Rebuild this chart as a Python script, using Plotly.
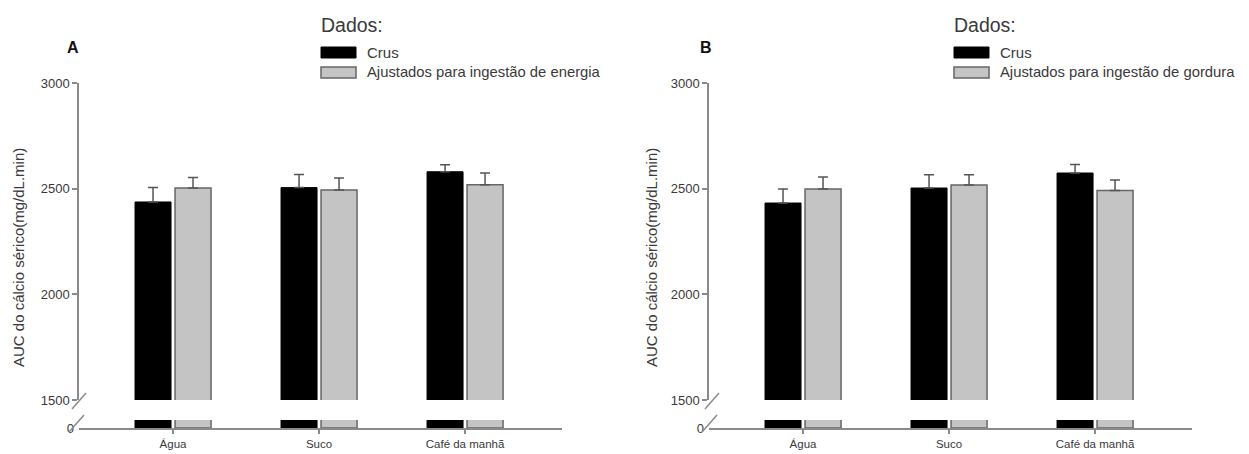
import plotly.graph_objects as go

# page has an 8px body margin; the figure is sized to fit inside the window
PAGE_W, PAGE_H = 1249, 454
OFF = 8
W, H = PAGE_W - OFF, PAGE_H - OFF

categories = ["Água", "Suco", "Café da manhã"]

# Panel A
a_crus = [2437, 2505, 2580]
a_crus_err = [68, 62, 33]
a_adj = [2503, 2494, 2519]
a_adj_err = [50, 56, 55]

# Panel B
b_crus = [2432, 2503, 2574]
b_crus_err = [66, 63, 40]
b_adj = [2498, 2517, 2491]
b_adj_err = [57, 49, 50]

y_ticks = [1500, 2000, 2500, 3000]
series_names = ["Crus", "Ajustados para ingestão de energia", "Ajustados para ingestão de gordura"]

BLACK = "#000000"
GRAY = "#c4c4c4"
EDGE = "#666666"
AXIS = "#8a8a8a"
TXT = "#3a3a3a"
FONT = "Liberation Sans, Arial, sans-serif"


def px(x):
    return (x - OFF) / W


def py(y):
    return 1 - (y - OFF) / H


fig = go.Figure()


def add_panel(xa_up, ya_up, xa_lo, ya_lo, crus, crus_err, adj, adj_err, adj_name):
    fig.add_trace(go.Bar(
        x=categories, y=crus, name="Crus", xaxis=xa_up, yaxis=ya_up,
        marker=dict(color=BLACK, line=dict(color=BLACK, width=1)),
        error_y=dict(type="data", array=crus_err, arrayminus=[0] * len(crus),
                     symmetric=False, color="#555555", thickness=1.5, width=5),
        showlegend=False, offsetgroup="c"))
    fig.add_trace(go.Bar(
        x=categories, y=adj, name=adj_name, xaxis=xa_up, yaxis=ya_up,
        marker=dict(color=GRAY, line=dict(color=EDGE, width=1.5)),
        error_y=dict(type="data", array=adj_err, arrayminus=[0] * len(adj),
                     symmetric=False, color="#555555", thickness=1.5, width=5),
        showlegend=False, offsetgroup="a"))
    fig.add_trace(go.Bar(
        x=categories, y=crus, name="Crus", xaxis=xa_lo, yaxis=ya_lo,
        marker=dict(color=BLACK, line=dict(color=BLACK, width=1)),
        showlegend=False, offsetgroup="c"))
    fig.add_trace(go.Bar(
        x=categories, y=adj, name=adj_name, xaxis=xa_lo, yaxis=ya_lo,
        marker=dict(color=GRAY, line=dict(color=EDGE, width=1.5)),
        showlegend=False, offsetgroup="a"))


add_panel("x", "y", "x2", "y2", a_crus, a_crus_err, a_adj, a_adj_err, series_names[1])
add_panel("x3", "y3", "x4", "y4", b_crus, b_crus_err, b_adj, b_adj_err, series_names[2])

cat_range = [-0.644, 2.664]
up_dom = [py(400), py(83)]
lo_dom = [py(428), py(420)]
domA = [px(79), px(562)]
domB = [px(709), px(1192)]

tickfont = dict(family=FONT, size=13, color=TXT)


def up_x(dom, anchor):
    return dict(domain=dom, range=cat_range, type="category", anchor=anchor, automargin=False,
                showline=False, showticklabels=False, ticks="", showgrid=False, zeroline=False)


def lo_x(dom, anchor):
    return dict(domain=dom, range=cat_range, type="category", anchor=anchor, automargin=False,
                showline=True, linecolor=AXIS, linewidth=1.5, ticks="outside",
                ticklen=4, tickcolor=AXIS, tickwidth=1.5,
                tickfont=dict(family=FONT, size=11.5, color=TXT), showgrid=False, zeroline=False)


def up_y(anchor):
    return dict(domain=up_dom, range=[1500, 3000], anchor=anchor, tickvals=y_ticks, automargin=False,
                showline=True, linecolor=AXIS, linewidth=1.5, ticks="outside",
                ticklen=5, tickcolor=AXIS, tickwidth=1.5, tickfont=tickfont,
                showgrid=False, zeroline=False)


def lo_y(anchor):
    return dict(domain=lo_dom, range=[0, 100], anchor=anchor, tickvals=[0], ticktext=["0"],
                automargin=False, showline=False, ticks="", tickfont=tickfont,
                showgrid=False, zeroline=False, ticklabelstandoff=4)


fig.update_layout(
    xaxis=up_x(domA, "y"), yaxis=up_y("x"),
    xaxis2=lo_x(domA, "y2"), yaxis2=lo_y("x2"),
    xaxis3=up_x(domB, "y3"), yaxis3=up_y("x3"),
    xaxis4=lo_x(domB, "y4"), yaxis4=lo_y("x4"),
)

shapes = []
annotations = []


def panel_deco(dx, letter, adj_name):
    # axis break slashes
    for (x0, y0, x1, y1) in [(72, 409, 86, 393), (69, 432, 84, 415)]:
        shapes.append(dict(type="line", xref="paper", yref="paper",
                           x0=px(x0 + dx), y0=py(y0), x1=px(x1 + dx), y1=py(y1),
                           line=dict(color=AXIS, width=1.5)))
    # legend boxes
    shapes.append(dict(type="rect", xref="paper", yref="paper",
                       x0=px(321 + dx), x1=px(356 + dx), y0=py(58), y1=py(47),
                       fillcolor=BLACK, line=dict(color=BLACK, width=1)))
    shapes.append(dict(type="rect", xref="paper", yref="paper",
                       x0=px(321 + dx), x1=px(356 + dx), y0=py(78), y1=py(67),
                       fillcolor=GRAY, line=dict(color=EDGE, width=1.5)))
    annotations.append(dict(text="Dados:", xref="paper", yref="paper", x=px(319 + dx), y=py(25),
                            xanchor="left", yanchor="middle", showarrow=False,
                            font=dict(family=FONT, size=19.5, color=TXT)))
    annotations.append(dict(text="Crus", xref="paper", yref="paper", x=px(365 + dx), y=py(53),
                            xanchor="left", yanchor="middle", showarrow=False,
                            font=dict(family=FONT, size=15, color=TXT)))
    annotations.append(dict(text=adj_name, xref="paper", yref="paper", x=px(365 + dx), y=py(72),
                            xanchor="left", yanchor="middle", showarrow=False,
                            font=dict(family=FONT, size=14.8, color=TXT)))
    annotations.append(dict(text="<b>%s</b>" % letter, xref="paper", yref="paper", x=px(73 + dx), y=py(47),
                            xanchor="center", yanchor="middle", showarrow=False,
                            font=dict(family=FONT, size=16, color="#111111")))
    annotations.append(dict(text="AUC do cálcio sérico(mg/dL.min)", xref="paper", yref="paper",
                            x=px(19 + dx), y=py(258), textangle=-90,
                            xanchor="center", yanchor="middle", showarrow=False,
                            font=dict(family=FONT, size=15, color=TXT)))


panel_deco(0, "A", series_names[1])
panel_deco(633, "B", series_names[2])

fig.update_layout(
    width=W, height=H, autosize=False,
    margin=dict(l=0, r=0, t=0, b=0, pad=0),
    paper_bgcolor="white", plot_bgcolor="white",
    barmode="group", bargap=0.452, bargroupgap=0.1,
    shapes=shapes, annotations=annotations,
    showlegend=False,
    font=dict(family=FONT, color=TXT),
)

fig.write_html("out.html")
